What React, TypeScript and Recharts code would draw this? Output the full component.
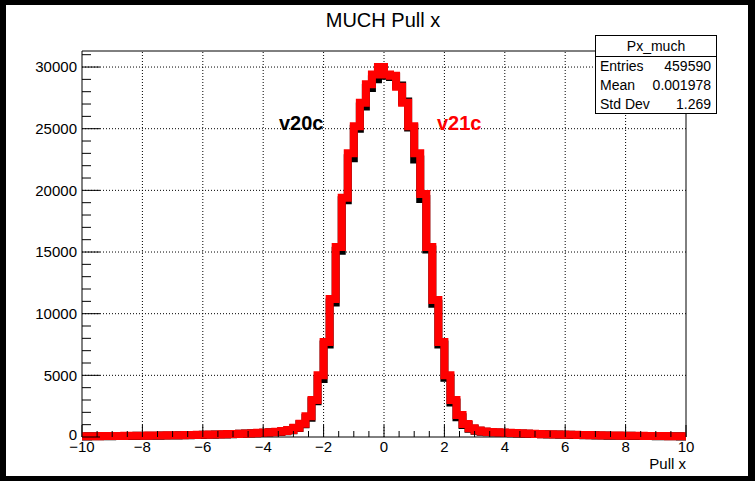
import { ComposedChart, Line, XAxis, YAxis, ReferenceLine, ReferenceArea } from 'recharts'

// histogram binning: 100 bins of 0.2 from -10 to 10
const binLow = -10
const binWidth = 0.2

// bin contents
const v20c = [
  40, 60, 60, 70, 70, 80, 80, 90, 90, 100,
  100, 110, 110, 120, 130, 130, 140, 150, 160, 170,
  180, 190, 200, 210, 230, 240, 260, 280, 300, 330,
  350, 380, 410, 460, 540, 720, 1040, 1560, 2900, 4700,
  7500, 10900, 15100, 19200, 22600, 25000, 26800, 28300, 29000, 29800,
  29300, 29200, 28500, 27200, 25100, 22500, 19300, 15200, 10800, 7500,
  4800, 2800, 1600, 980, 660, 500, 430, 390, 360, 340,
  320, 300, 280, 260, 250, 240, 220, 210, 200, 190,
  180, 170, 160, 150, 140, 130, 120, 110, 110, 100,
  100, 90, 90, 80, 80, 70, 70, 60, 60, 50,
]

const v21c = [
  60, 70, 70, 80, 80, 90, 90, 100, 100, 110,
  110, 120, 120, 130, 140, 140, 150, 160, 170, 180,
  190, 200, 210, 220, 240, 250, 270, 290, 310, 340,
  360, 390, 420, 480, 560, 750, 1080, 1680, 3000, 5000,
  7700, 11200, 15400, 19400, 23000, 25200, 27100, 28600, 29400, 30000,
  29400, 29300, 28400, 27100, 25200, 23000, 19700, 15400, 11100, 7700,
  5000, 3000, 1780, 1050, 700, 520, 450, 410, 380, 360,
  340, 320, 300, 280, 260, 250, 230, 220, 210, 200,
  190, 180, 170, 160, 150, 140, 130, 120, 120, 110,
  110, 100, 100, 90, 90, 80, 80, 70, 70, 60,
]

const xTicks = [
  -10, -9.5, -9, -8.5, -8, -7.5, -7, -6.5, -6, -5.5, -5, -4.5, -4, -3.5, -3, -2.5, -2, -1.5, -1, -0.5,
  0, 0.5, 1, 1.5, 2, 2.5, 3, 3.5, 4, 4.5, 5, 5.5, 6, 6.5, 7, 7.5, 8, 8.5, 9, 9.5, 10,
]
const xMajor = [-10, -8, -6, -4, -2, 0, 2, 4, 6, 8, 10]
const xGrid = [-8, -6, -4, -2, 0, 2, 4, 6, 8]

const yTicks = [
  0, 1000, 2000, 3000, 4000, 5000, 6000, 7000, 8000, 9000, 10000, 11000, 12000, 13000, 14000, 15000,
  16000, 17000, 18000, 19000, 20000, 21000, 22000, 23000, 24000, 25000, 26000, 27000, 28000, 29000, 30000, 31000,
]
const yMajor = [0, 5000, 10000, 15000, 20000, 25000, 30000]
const yGrid = [5000, 10000, 15000, 20000, 25000, 30000]
const yMax = 31300

const stats = [
  { label: 'Entries', value: '459590' },
  { label: 'Mean', value: '0.001978' },
  { label: 'Std Dev', value: '1.269' },
]

const FONT = '"Liberation Sans", Arial, Helvetica, sans-serif'

const data = v21c.map((v, i) => ({
  x: Number((binLow + i * binWidth).toFixed(1)),
  v20c: v20c[i],
  v21c: v,
}))
data.push({ x: 10, v20c: v20c[v20c.length - 1], v21c: v21c[v21c.length - 1] })

const fmt = (v: number) => (v < 0 ? '\u2212' + Math.abs(v) : String(v))

function XTick(props: any) {
  const { x, y, payload } = props
  const v = payload.value
  const major = xMajor.includes(v)
  const axisY = y - 4
  return (
    <g>
      <line x1={x} x2={x} y1={axisY} y2={axisY - (major ? 12 : 6)} stroke="#000" strokeWidth={1} />
      {major && (
        <text x={x} y={axisY + 4} dy="0.71em" textAnchor="middle" fontSize={15} fill="#000" fontFamily={FONT}>
          {fmt(v)}
        </text>
      )}
    </g>
  )
}

function YTick(props: any) {
  const { x, y, payload } = props
  const v = payload.value
  const major = yMajor.includes(v)
  const axisX = x + 5
  return (
    <g>
      <line x1={axisX} x2={axisX + (major ? 18 : 9)} y1={y} y2={y} stroke="#000" strokeWidth={1} />
      {major && (
        <text x={x} y={v === 0 ? y - 2 : y} dy="0.35em" textAnchor="end" fontSize={15} fill="#000" fontFamily={FONT}>
          {v}
        </text>
      )}
    </g>
  )
}

export default function App() {
  return (
    <div style={{ position: 'absolute', left: 0, top: 0, width: 755, height: 481, background: '#000', overflow: 'hidden' }}>
      <div style={{ position: 'absolute', left: 6, top: 5, width: 742, height: 471, background: '#fff' }} />
      <div style={{ position: 'absolute', left: 0, top: 0 }}>
        <ComposedChart width={755} height={481} data={data} margin={{ top: 51, right: 69, bottom: 14, left: 22 }}>
          <XAxis
            dataKey="x"
            type="number"
            domain={[-10, 10]}
            ticks={xTicks}
            interval={0}
            axisLine={false}
            tickLine={false}
            tickSize={0}
            tickMargin={4}
            height={30}
            tick={<XTick />}
          />
          <YAxis
            type="number"
            domain={[0, yMax]}
            ticks={yTicks}
            interval={0}
            axisLine={false}
            tickLine={false}
            tickSize={0}
            tickMargin={5}
            width={60}
            tick={<YTick />}
          />
          {xGrid.map(v => (
            <ReferenceLine key={'gx' + v} x={v} stroke="#000" strokeDasharray="1 2" strokeWidth={1} />
          ))}
          {yGrid.map(v => (
            <ReferenceLine key={'gy' + v} y={v} stroke="#000" strokeDasharray="1 2" strokeWidth={1} />
          ))}
          <ReferenceArea x1={-10} x2={10} y1={0} y2={yMax} fill="#fff" fillOpacity={0} stroke="#000" strokeWidth={1} />
          <Line
            dataKey="v20c"
            type="stepAfter"
            stroke="#000"
            strokeWidth={8}
            dot={false}
            strokeLinejoin="miter"
            isAnimationActive={false}
          />
          <Line
            dataKey="v21c"
            type="stepAfter"
            stroke="#ff0000"
            strokeWidth={8}
            dot={false}
            strokeLinejoin="miter"
            isAnimationActive={false}
          />
        </ComposedChart>
      </div>

      <div style={{ position: 'absolute', left: 283, top: 10, width: 200, textAlign: 'center', fontFamily: FONT, fontSize: 20, lineHeight: 1, color: '#000' }}>
        MUCH Pull x
      </div>
      <div style={{ position: 'absolute', left: 279, top: 113, fontFamily: FONT, fontSize: 20, fontWeight: 'bold', lineHeight: 1, color: '#000' }}>
        v20c
      </div>
      <div style={{ position: 'absolute', left: 437, top: 113, fontFamily: FONT, fontSize: 20, fontWeight: 'bold', lineHeight: 1, color: '#ff0000' }}>
        v21c
      </div>
      <div style={{ position: 'absolute', left: 626, top: 456, fontFamily: FONT, fontSize: 15, lineHeight: 1, color: '#000', width: 60, textAlign: 'right' }}>
        Pull x
      </div>

      <div style={{ position: 'absolute', left: 595, top: 35, width: 120, height: 77, background: '#fff', border: '1px solid #000', fontFamily: FONT, fontSize: 14, color: '#000' }}>
        <div style={{ height: 20, lineHeight: '20px', textAlign: 'center', borderBottom: '1px solid #000' }}>Px_much</div>
        {stats.map(s => (
          <div key={s.label} style={{ height: 19, lineHeight: '19px', display: 'flex', justifyContent: 'space-between', padding: '0 5px 0 4px' }}>
            <span>{s.label}</span>
            <span>{s.value}</span>
          </div>
        ))}
      </div>
    </div>
  )
}
